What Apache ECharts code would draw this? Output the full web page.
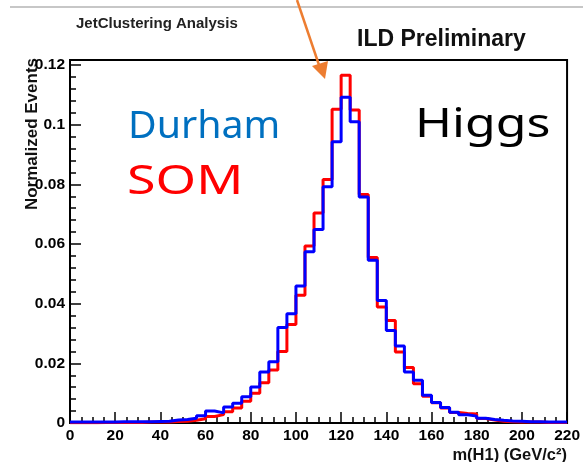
<!DOCTYPE html>
<html>
<head>
<meta charset="utf-8">
<script src="https://cdn.jsdelivr.net/npm/echarts@6/dist/echarts.min.js"></script>
<style>
html,body{margin:0;padding:0;background:#fff;}
#chart{width:583px;height:462px;}
</style>
</head>
<body>
<div id="chart"></div>
<script>
// Bin low edges (GeV), bin width 4 GeV, histogram range 0-220
const binLowEdges = [0,4,8,12,16,20,24,28,32,36,40,44,48,52,56,60,64,68,72,76,80,84,88,92,96,100,104,108,112,116,120,124,128,132,136,140,144,148,152,156,160,164,168,172,176,180,184,188,192,196,200,204,208,212,216];
const histUpperEdge = 220;

// SOM (red)
const somValues = [0.0001,0.0001,0.0001,0.0002,0.0002,0.0002,0.0002,0.0002,0.0003,0.0003,0.0003,0.0005,0.0006,0.0009,0.0014,0.0022,0.0028,0.0038,0.0050,0.0073,0.0100,0.0135,0.0178,0.0240,0.0330,0.0428,0.0593,0.0704,0.0816,0.1052,0.1166,0.1049,0.0766,0.0555,0.0389,0.0344,0.0238,0.0186,0.0132,0.0090,0.0068,0.0050,0.0035,0.0032,0.0030,0.0015,0.0010,0.0006,0.0004,0.0003,0.0003,0.0003,0.0002,0.0002,0.0002];

// Durham (blue)
const durhamValues = [0.0003,0.0003,0.0003,0.0003,0.0003,0.0004,0.0004,0.0004,0.0004,0.0005,0.0006,0.0010,0.0012,0.0016,0.0024,0.0040,0.0034,0.0054,0.0066,0.0088,0.0121,0.0171,0.0205,0.0320,0.0366,0.0459,0.0574,0.0649,0.0792,0.0943,0.1092,0.1010,0.0758,0.0546,0.0411,0.0310,0.0258,0.0171,0.0143,0.0093,0.0069,0.0052,0.0036,0.0028,0.0023,0.0016,0.0012,0.0009,0.0007,0.0006,0.0004,0.0004,0.0003,0.0003,0.0003];

const xAxisMin = 0, xAxisMax = 220, xTickStep = 20;
const yAxisMin = 0, yAxisMax = 0.1217, yTickStep = 0.02;

function stepData(vals) {
  const d = binLowEdges.map((e, i) => [e, vals[i]]);
  d.push([histUpperEdge, vals[vals.length - 1]]);
  return d;
}

const FONT = '"Liberation Sans", Arial, Helvetica, sans-serif';
const chart = echarts.init(document.getElementById('chart'), null, {renderer: 'canvas'});

chart.setOption({
  animation: false,
  backgroundColor: '#ffffff',
  grid: {
    left: 70, right: 15, top: 60, bottom: 39,
    show: true, borderColor: '#000', borderWidth: 2, backgroundColor: 'transparent'
  },
  xAxis: {
    type: 'value', min: xAxisMin, max: xAxisMax, interval: xTickStep,
    axisLine: {show: false},
    splitLine: {show: false},
    axisTick: {show: true, inside: true, length: 11, lineStyle: {color: '#000', width: 1.5}},
    minorTick: {show: true, splitNumber: 4, length: 6, lineStyle: {color: '#000', width: 1.5}},
    axisLabel: {color: '#000', fontFamily: FONT, fontWeight: 'bold', fontSize: 15.5, margin: 5}
  },
  yAxis: {
    type: 'value', min: yAxisMin, max: yAxisMax, interval: yTickStep,
    axisLine: {show: false},
    splitLine: {show: false},
    axisTick: {show: true, inside: true, length: 11, lineStyle: {color: '#000', width: 1.5}},
    minorTick: {show: true, splitNumber: 5, length: 6, lineStyle: {color: '#000', width: 1.5}},
    axisLabel: {
      color: '#000', fontFamily: FONT, fontWeight: 'bold', fontSize: 15.5, margin: 5,
      formatter: function (v) {
        const k = v / yTickStep;
        if (Math.abs(k - Math.round(k)) > 1e-6) return '';
        return String(+(Math.round(k) * yTickStep).toFixed(2));
      }
    }
  },
  series: [
    {
      name: 'SOM', type: 'line', step: 'end', symbol: 'none',
      data: stepData(somValues),
      lineStyle: {color: '#ff0000', width: 3},
      z: 3
    },
    {
      name: 'Durham', type: 'line', step: 'end', symbol: 'none',
      data: stepData(durhamValues),
      lineStyle: {color: '#0000ff', width: 3},
      z: 4
    }
  ],
  graphic: [
    {type: 'line', shape: {x1: 10, y1: 7, x2: 583, y2: 7}, style: {stroke: '#b5b5b5', lineWidth: 1.5}, silent: true},
    {type: 'line', shape: {x1: 297, y1: 0, x2: 320, y2: 68}, style: {stroke: '#ED7D31', lineWidth: 2.5}, silent: true},
    {type: 'polygon', shape: {points: [[325, 79], [312, 66], [328, 61]]}, style: {fill: '#ED7D31'}, silent: true},
    {type: 'text', x: 76, y: 24, style: {text: 'JetClustering Analysis', font: 'bold 15px ' + FONT, fill: '#222', align: 'left', verticalAlign: 'middle'}},
    {type: 'text', x: 357, y: 40, style: {text: 'ILD Preliminary', font: 'bold 23px ' + FONT, fill: '#111', align: 'left', verticalAlign: 'middle'}},
    {type: 'text', x: 128, y: 127, scaleX: 1.034, style: {text: 'Durham', font: '38px "Noto Sans", sans-serif', fill: '#0070C0', align: 'left', verticalAlign: 'middle'}},
    {type: 'text', x: 127, y: 183, scaleX: 1.3, style: {text: 'SOM', font: '40px "Noto Sans", sans-serif', fill: '#ff0000', align: 'left', verticalAlign: 'middle'}},
    {type: 'text', x: 415, y: 126, scaleX: 1.25, style: {text: 'Higgs', font: '40px "Noto Sans", sans-serif', fill: '#000', align: 'left', verticalAlign: 'middle'}},
    {type: 'text', x: 32, y: 58, rotation: Math.PI / 2, style: {text: 'Normalized Events', font: 'bold 17px ' + FONT, fill: '#111', align: 'right', verticalAlign: 'middle'}},
    {type: 'text', x: 567, y: 455, style: {text: 'm(H1) (GeV/c²)', font: 'bold 16.5px ' + FONT, fill: '#111', align: 'right', verticalAlign: 'middle'}}
  ]
});
</script>
</body>
</html>
